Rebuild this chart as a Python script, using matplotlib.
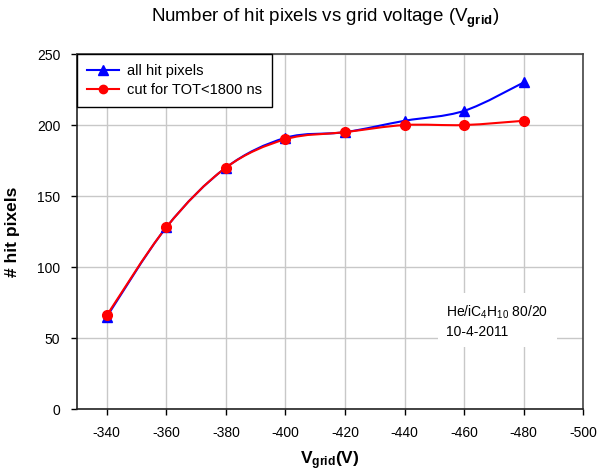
import numpy as np
import matplotlib.pyplot as plt
from matplotlib.path import Path
from matplotlib.patches import PathPatch
from matplotlib.lines import Line2D

plt.rcParams["font.family"] = ["Liberation Sans", "DejaVu Sans"]
plt.rcParams["axes.unicode_minus"] = False
plt.rcParams["mathtext.fontset"] = "custom"
plt.rcParams["mathtext.rm"] = "Liberation Sans"
plt.rcParams["mathtext.it"] = "Liberation Sans:italic"
plt.rcParams["mathtext.bf"] = "Liberation Sans:bold"

# ============================================================
# DATA
# ============================================================

v_grid = [-340, -360, -380, -400, -420, -440, -460, -480]
all_hits = [65, 128, 170, 191, 195, 203, 210, 230]
cut_hits = [66, 128, 170, 190, 195, 200, 200, 203]

x_ticks = [-340, -360, -380, -400, -420, -440, -460, -480, -500]
y_ticks = [0, 50, 100, 150, 200, 250]


# ============================================================
# SMOOTH LINE (Excel-like Catmull-Rom bezier)
# ============================================================

def smooth_path(xs, ys):
    pts = np.column_stack([xs, ys]).astype(float)
    n = len(pts)
    verts = [pts[0]]
    codes = [Path.MOVETO]
    for i in range(n - 1):
        p0 = pts[i - 1] if i > 0 else pts[i]
        p1 = pts[i]
        p2 = pts[i + 1]
        p3 = pts[i + 2] if i + 2 < n else pts[i + 1]
        c1 = p1 + (p2 - p0) / 6.0
        c2 = p2 - (p3 - p1) / 6.0
        verts += [c1, c2, p2]
        codes += [Path.CURVE4] * 3
    return Path(verts, codes)


def draw_series(ax, xs, ys, color, marker, ms, label):
    patch = PathPatch(smooth_path(xs, ys), facecolor="none", edgecolor=color, lw=1.5, zorder=3)
    ax.add_patch(patch)
    ax.plot(xs, ys, ls="none", marker=marker, color=color, ms=ms, zorder=4)
    return Line2D([], [], color=color, lw=1.5, marker=marker, ms=ms - 1, label=label)


# ============================================================
# PLOT
# ============================================================

fig = plt.figure(figsize=(5.97, 4.74), dpi=100)
ax = fig.add_axes([0.129, 0.137, 0.848, 0.749])

h1 = draw_series(ax, v_grid, all_hits, "#0000ff", "^", 7.5, "all hit pixels")
h2 = draw_series(ax, v_grid, cut_hits, "#ff0000", "o", 7, "cut for TOT<1800 ns")

ax.set_xlim(-330, -500)
ax.set_ylim(0, 250)
ax.set_xticks(x_ticks)
ax.set_yticks(y_ticks)
ax.tick_params(labelsize=10, length=4, width=1, direction="out", pad=8)
ax.grid(True, color="#c8c8c8", lw=1)
ax.set_axisbelow(True)

for s in ["left", "bottom"]:
    ax.spines[s].set_linewidth(1.2)
    ax.spines[s].set_color("#222222")
for s in ["top", "right"]:
    ax.spines[s].set_linewidth(1.2)
    ax.spines[s].set_color("#444444")

ax.set_xlabel(r"V$_{\mathbf{grid}}$(V)", fontsize=12.5, fontweight="bold", labelpad=7)
ax.set_ylabel("# hit pixels", fontsize=12.5, fontweight="bold", labelpad=12)
fig.suptitle(r"Number of hit pixels vs grid voltage (V$_{\mathbf{grid}}$)", fontsize=13.5, x=0.545, y=0.985)

leg = ax.legend(handles=[h1, h2], loc="upper left", borderaxespad=0, fontsize=10.5,
                fancybox=False, framealpha=1, edgecolor="black", handlelength=2.2,
                handletextpad=0.5, borderpad=0.7, labelspacing=0.3)
leg.get_frame().set_linewidth(1.0)

ax.text(-454, 62, "He/iC$_4$H$_{10}$ 80/20\n10-4-2011", fontsize=10, va="center", ha="left",
        linespacing=1.4, bbox=dict(facecolor="white", edgecolor="none", pad=6), zorder=2)

fig.savefig("out.png", dpi=100)
